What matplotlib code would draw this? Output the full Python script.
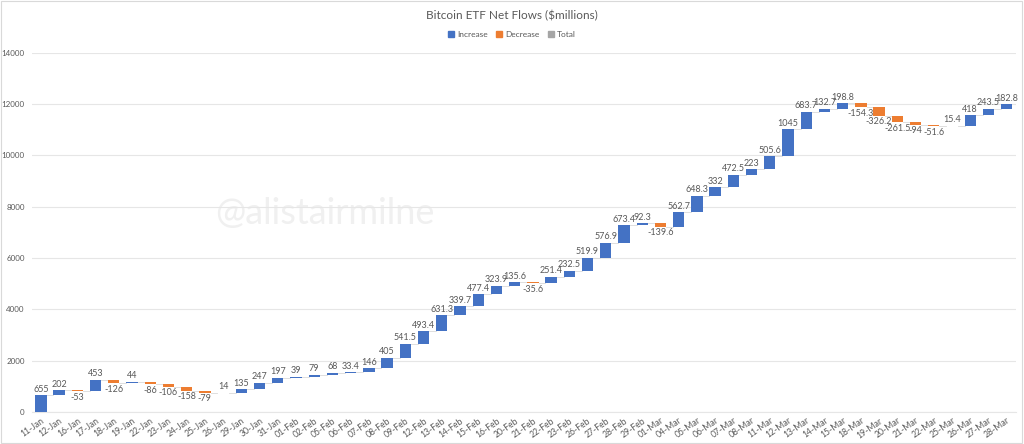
import matplotlib.pyplot as plt
import numpy as np
from matplotlib.patches import Patch

plt.rcParams['font.family'] = ['Lato', 'DejaVu Sans']

# 날짜별 순유입 ($millions)
dates = ['11-Jan', '12-Jan', '16-Jan', '17-Jan', '18-Jan', '19-Jan', '22-Jan', '23-Jan',
         '24-Jan', '25-Jan', '26-Jan', '29-Jan', '30-Jan', '31-Jan', '01-Feb', '02-Feb',
         '05-Feb', '06-Feb', '07-Feb', '08-Feb', '09-Feb', '12-Feb', '13-Feb', '14-Feb',
         '15-Feb', '16-Feb', '20-Feb', '21-Feb', '22-Feb', '23-Feb', '26-Feb', '27-Feb',
         '28-Feb', '29-Feb', '01-Mar', '04-Mar', '05-Mar', '06-Mar', '07-Mar', '08-Mar',
         '11-Mar', '12-Mar', '13-Mar', '14-Mar', '15-Mar', '18-Mar', '19-Mar', '20-Mar',
         '21-Mar', '22-Mar', '25-Mar', '26-Mar', '27-Mar', '28-Mar']
flows = [655, 202, -53, 453, -126, 44, -86, -106,
         -158, -79, 14, 135, 247, 197, 39, 79,
         68, 33.4, 146, 405, 541.5, 493.4, 631.3, 339.7,
         477.4, 323.9, 135.6, -35.6, 251.4, 232.5, 519.9, 576.9,
         673.4, 92.3, -139.6, 562.7, 648.3, 332, 472.5, 223,
         505.6, 1045, 683.7, 132.7, 198.8, -154.3, -326.2, -261.5,
         -94, -51.6, 15.4, 418, 243.5, 182.8]

BLUE = '#4472C4'
ORANGE = '#ED7D31'
GREY = '#A5A5A5'
TXT = '#595959'

flows = np.array(flows)
ends = np.cumsum(flows)
starts = ends - flows
x = np.arange(len(dates))
colors = [BLUE if v >= 0 else ORANGE for v in flows]

fig = plt.figure(figsize=(10.24, 4.44), dpi=100)
ax = fig.add_axes([0.031, 0.072, 0.961, 0.809])

ax.bar(x, flows, bottom=starts, width=0.62, color=colors, zorder=3)

# 연결선
for i in range(len(x) - 1):
    ax.plot([x[i] + 0.31, x[i + 1] - 0.31], [ends[i], ends[i]],
            color='#d9d9d9', lw=0.6, zorder=2)

# 데이터 라벨
for i, v in enumerate(flows):
    lbl = f'{v:g}'
    if v >= 0:
        ax.text(x[i], ends[i] + 60, lbl, ha='center', va='bottom', fontsize=6.5, color=TXT)
    else:
        ax.text(x[i], ends[i] - 60, lbl, ha='center', va='top', fontsize=6.5, color=TXT)

ax.set_xlim(-0.5, len(x) - 0.5)
ax.set_ylim(0, 14000)
ax.set_yticks(range(0, 14001, 2000))
ax.tick_params(axis='y', labelsize=5.8, colors=TXT, length=0, pad=5)
ax.set_xticks(x)
ax.set_xticklabels(dates, rotation=35, ha='right', rotation_mode='anchor')
ax.tick_params(axis='x', labelsize=6.2, colors=TXT, length=0, pad=3)
ax.grid(axis='y', color='#e6e6e6', lw=0.8, zorder=0)
for s in ['top', 'right', 'left']:
    ax.spines[s].set_visible(False)
ax.spines['bottom'].set_color('#e6e6e6')

# 워터마크
ax.text(0.298, 0.554, '@alistairmilne', transform=ax.transAxes, ha='center', va='center',
        fontsize=26, color='#f0f0f0', zorder=1)

fig.text(0.5, 0.965, 'Bitcoin ETF Net Flows ($millions)', ha='center', va='center',
         fontsize=8.5, color=TXT)

# 범례
handles = [Patch(color=BLUE, label='Increase'), Patch(color=ORANGE, label='Decrease'),
           Patch(color=GREY, label='Total')]
fig.legend(handles=handles, loc='center', bbox_to_anchor=(0.5, 0.922), ncol=3,
           frameon=False, fontsize=6, handlelength=0.7, handleheight=0.7,
           handletextpad=0.4, columnspacing=1.0, labelcolor=TXT)

fig.patches.append(plt.Rectangle((0.001, 0.002), 0.997, 0.995, transform=fig.transFigure,
                                 fill=False, edgecolor='#d9d9d9', lw=0.8))

plt.savefig('out.png', dpi=100)
plt.close()
